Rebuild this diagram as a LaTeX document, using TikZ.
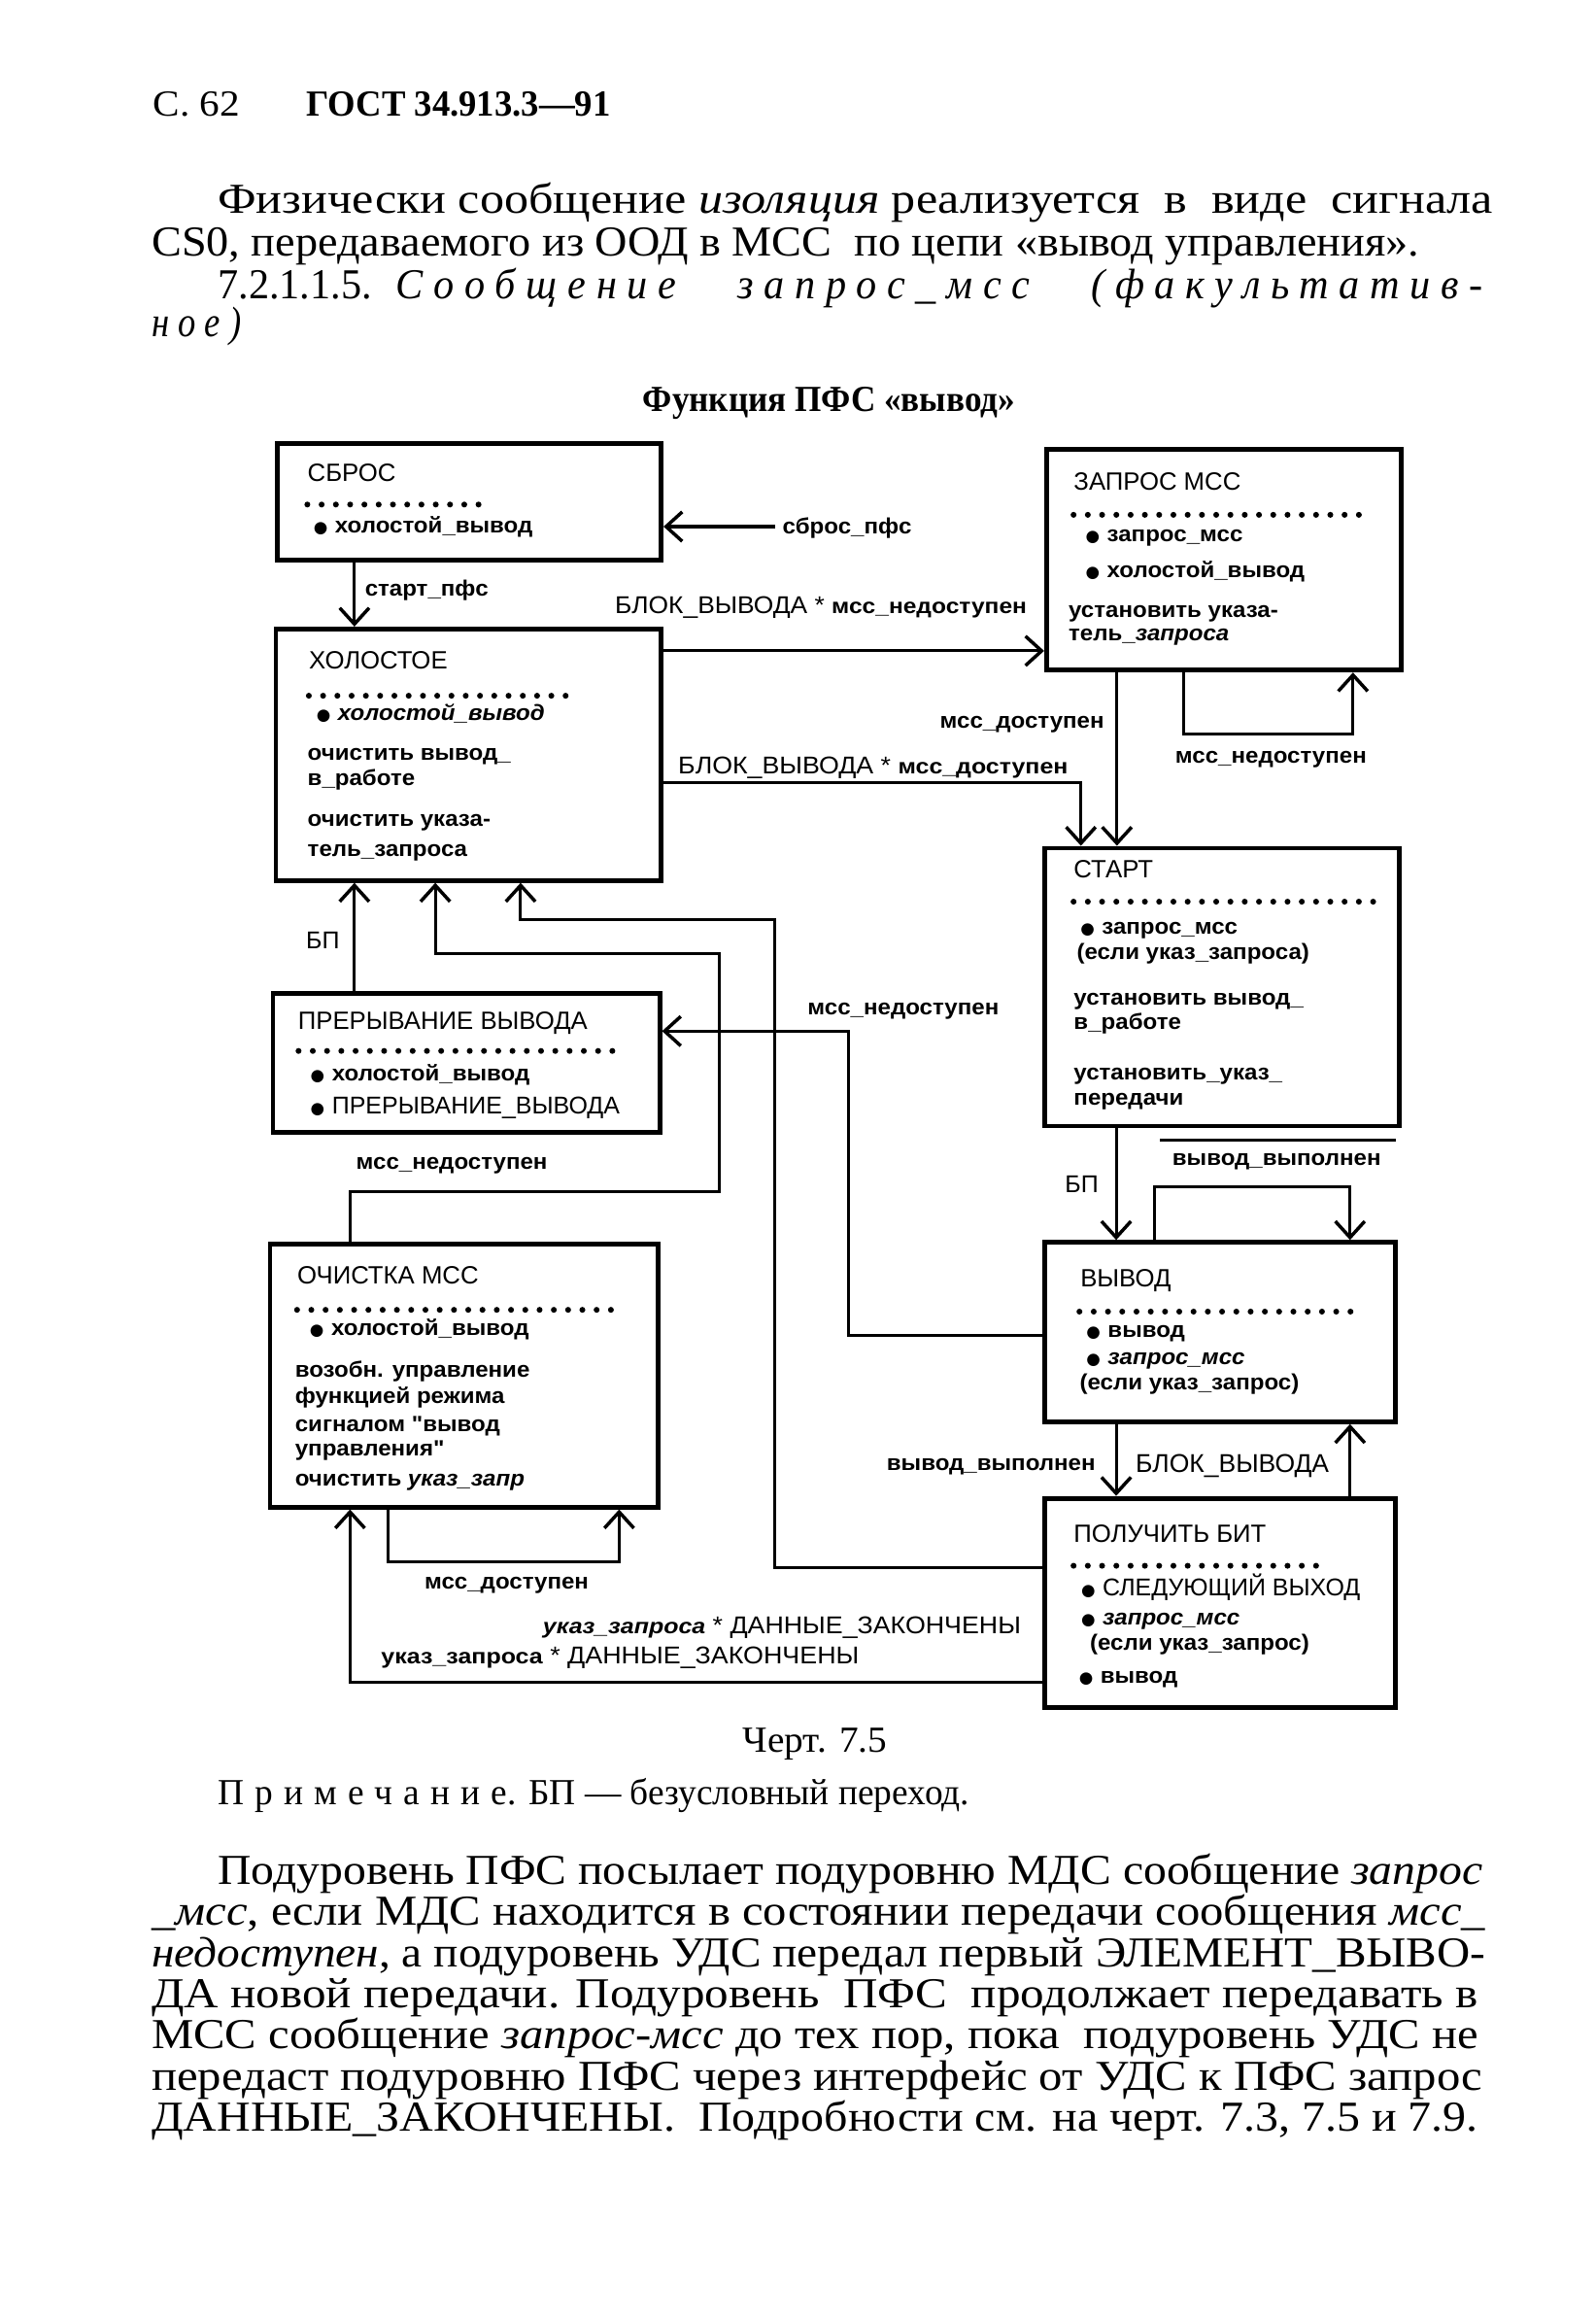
\documentclass[tikz,border=0pt]{standalone}
\usepackage{fontspec}
\setmainfont{Liberation Serif}
\setsansfont{Liberation Sans}
\newfontfamily\itemfont[FakeStretch=1.06]{Liberation Sans}
\newfontfamily\djv{DejaVu Sans}
\usetikzlibrary{arrows.meta}
\newcommand\fw[2]{\resizebox{#1}{\height}{#2}}
\newcommand\bul{{\djv\fontsize{11}{11}\selectfont ●}\hspace{5pt}}
\begin{document}
\begin{tikzpicture}[x=1pt,y=-1pt,
  box/.style={draw, line width=3.2pt, inner sep=0pt, anchor=north west},
  con/.style={line width=2pt},
  arr/.style={con, -{Straight Barb[length=11pt,width=20pt,line width=2.3pt]}},
  dotrow/.style={line width=4pt, line cap=round, dash pattern=on 0pt off 9.7pt},
  body/.style={font=\fontsize{29}{29}\selectfont, anchor=base west, inner sep=0pt},
  hdr/.style={font=\fontsize{25}{25}\selectfont, anchor=base west, inner sep=0pt},
  ttl/.style={font=\sffamily\fontsize{17}{17}\selectfont, anchor=base west, inner sep=0pt},
  itm/.style={font=\itemfont\bfseries\fontsize{15}{15}\selectfont, anchor=base west, inner sep=0pt},
  capstext/.style={font=\sffamily\fontsize{16.5}{17}\selectfont, anchor=base west, inner sep=0pt},
]
\fill[white] (0,0) rectangle (1085,1580);
\useasboundingbox (0,0) rectangle (1085,1580);

% ---------- page text (top) ----------
\node[hdr] (h1) at (104,79) {\fw{59pt}{С.\ 62}};
\node[hdr] (h2) at (208,79) {\fw{207pt}{\bfseries ГОСТ 34.913.3—91}};
\node[body] (p1) at (148,145) {\fw{867pt}{Физически сообщение \textit{изоляция} реализуется \ в \ виде \ сигнала}};
\node[body] (p2) at (103,174) {\fw{862pt}{CS0, передаваемого из ООД в МСС \ по цепи «вывод управления».}};
\node[body] (p3) at (148,203) {\fw{867pt}{7.2.1.1.5. \ \textit{\addfontfeature{LetterSpace=25}Сообщение \ \ запрос\_мсс \ \ (факультатив-}}};
\node[body] (p4) at (103,229) {\fw{67pt}{\textit{\addfontfeature{LetterSpace=25}ное)}}};
\node[hdr] (title) at (437,280) {\fw{253pt}{\bfseries Функция ПФС «вывод»}};

% ---------- boxes ----------
\node[box, minimum width=261pt, minimum height=79pt]  (sbros)  at (187,300)  {};
\node[box, minimum width=241pt, minimum height=150pt] (zapros) at (710,304)  {};
\node[box, minimum width=262pt, minimum height=171pt] (holost) at (186,426)  {};
\node[box, minimum width=241pt, minimum height=189pt] (start)  at (709,575)  {};
\node[box, minimum width=263pt, minimum height=94pt]  (prer)   at (184,674)  {};
\node[box, minimum width=264pt, minimum height=179pt] (ochist) at (182,844)  {};
\node[box, minimum width=238pt, minimum height=122pt] (vyvod)  at (709,843)  {};
\node[box, minimum width=238pt, minimum height=142pt] (poluch) at (709,1017) {};

% СБРОС
\node[ttl] (sbT) at (209,327) {СБРОС};
\draw[dotrow] (209,343) -- (327,343);
\node[itm] (sb1) at (213,362) {\bul холостой\_вывод};
% ХОЛОСТОЕ
\node[ttl] (hoT) at (210,454.5) {ХОЛОСТОЕ};
\draw[dotrow] (210,473) -- (385,473);
\node[itm] (ho1) at (215,490) {\bul\textit{холостой\_вывод}};
\node[itm] (ho2) at (209,517) {очистить вывод\_};
\node[itm] (ho3) at (209,534) {в\_работе};
\node[itm] (ho4) at (209,562) {очистить указа-};
\node[itm] (ho5) at (209,582) {тель\_запроса};
% ЗАПРОС МСС
\node[ttl] (zaT) at (730,333.5) {ЗАПРОС МСС};
\draw[dotrow] (730,350) -- (932,350);
\node[itm] (za1) at (738,368.5) {\bul запрос\_мсс};
\node[itm] (za2) at (738,392.5) {\bul холостой\_вывод};
\node[itm] (za3) at (726.5,420) {установить указа-};
\node[itm] (za4) at (726.5,435.5) {тель\_\textit{запроса}};
% СТАРТ
\node[ttl] (stT) at (730,596.5) {СТАРТ};
\draw[dotrow] (730,613) -- (940,613);
\node[itm] (st1) at (734.5,635) {\bul запрос\_мсс};
\node[itm] (st2) at (732,652.5) {(если указ\_запроса)};
\node[itm] (st3) at (730,683) {установить вывод\_};
\node[itm] (st4) at (730,700) {в\_работе};
\node[itm] (st5) at (730,734) {установить\_указ\_};
\node[itm] (st6) at (730,751.5) {передачи};
% ПРЕРЫВАНИЕ ВЫВОДА
\node[ttl] (prT) at (202.5,700) {ПРЕРЫВАНИЕ ВЫВОДА};
\draw[dotrow] (203,714.5) -- (420,714.5);
\node[itm] (pr1) at (211,735) {\bul холостой\_вывод};
\node[capstext] (pr2) at (211,757.5) {\bul ПРЕРЫВАНИЕ\_ВЫВОДА};
% ОЧИСТКА МСС
\node[ttl] (ocT) at (202,873) {ОЧИСТКА МСС};
\draw[dotrow] (202,890.5) -- (425,890.5);
\node[itm] (oc1) at (210.5,908) {\bul холостой\_вывод};
\node[itm] (oc2) at (200.5,936.5) {возобн. управление};
\node[itm] (oc3) at (200.5,954) {функцией режима};
\node[itm] (oc4) at (200.5,973) {сигналом "вывод};
\node[itm] (oc5) at (200.5,990) {управления"};
\node[itm] (oc6) at (200.5,1010) {очистить \textit{указ\_запр}};
% ВЫВОД
\node[ttl] (vyT) at (734.5,875) {ВЫВОД};
\draw[dotrow] (734,891.7) -- (926,891.7);
\node[itm] (vy1) at (738.5,909.5) {\bul вывод};
\node[itm] (vy2) at (738.5,927.5) {\bul\textit{запрос\_мсс}};
\node[itm] (vy3) at (734,945) {(если указ\_запрос)};
% ПОЛУЧИТЬ БИТ
\node[ttl] (poT) at (730,1048.5) {ПОЛУЧИТЬ БИТ};
\draw[dotrow] (730,1064.5) -- (901,1064.5);
\node[capstext] (po1) at (735,1085) {\bul СЛЕДУЮЩИЙ ВЫХОД};
\node[itm] (po2) at (735,1105) {\bul\textit{запрос\_мсс}};
\node[itm] (po3) at (741,1122) {(если указ\_запрос)};
\node[itm] (po4) at (733.5,1144.5) {\bul вывод};

% ---------- connectors ----------
\coordinate (c1) at (527,358);
\draw[arr] (c1) -- (c1 -| sbros.east);
\draw[arr] (241,0 |- sbros.south) -- (241,0 |- holost.north);
\draw[arr] (holost.east |- 0,442.5) -- (zapros.west |- 0,442.5);
\draw[arr] (holost.east |- 0,532) -| (735,0 |- start.north);
\draw[arr] (759.5,0 |- zapros.south) -- (759.5,0 |- start.north);
\draw[arr] (805,0 |- zapros.south) |- (920,499) -- (920,0 |- zapros.south);
\draw[arr] (241,0 |- prer.north) -- (241,0 |- holost.south);
\draw[arr] (238,0 |- ochist.north) |- (489,810) |- (296,648.5) -- (296,0 |- holost.south);
\draw[arr] (vyvod.west |- 0,908) -| (577,701) -- (prer.east |- 0,701);
\draw[arr] (759,0 |- start.south) -- (759,0 |- vyvod.north);
\draw[arr] (785,0 |- vyvod.north) |- (918,807) -- (918,0 |- vyvod.north);
\draw[con] (789,775) -- (949,775);
\draw[arr] (759,0 |- vyvod.south) -- (759,0 |- poluch.north);
\draw[arr] (918,0 |- poluch.north) -- (918,0 |- vyvod.south);
\draw[arr] (264,0 |- ochist.south) |- (421,1062) -- (421,0 |- ochist.south);
\draw[arr] (poluch.west |- 0,1066) -| (527,625.5) -| (354,0 |- holost.south);
\draw[arr] (poluch.west |- 0,1144) -| (238,0 |- ochist.south);

% ---------- connector labels ----------
\node[itm] (l1) at (532,363) {сброс\_пфс};
\node[itm] (l2) at (248,405) {старт\_пфс};
\node[capstext] (l3) at (418,417) {\fw{280pt}{БЛОК\_ВЫВОДА * {\itemfont\bfseries\fontsize{14.5}{15}\selectfont мсс\_недоступен}}};
\node[capstext] (l4) at (461,526) {\fw{265pt}{БЛОК\_ВЫВОДА * {\itemfont\bfseries\fontsize{14.5}{15}\selectfont мсс\_доступен}}};
\node[itm] (l5) at (639,495) {мсс\_доступен};
\node[itm] (l6) at (799,519) {мсс\_недоступен};
\node[capstext] (l7) at (208,645) {БП};
\node[itm] (l8) at (242,795) {мсс\_недоступен};
\node[itm] (l9) at (549,690) {мсс\_недоступен};
\node[capstext] (l10) at (724,811) {БП};
\node[itm] (l11) at (797,792) {вывод\_выполнен};
\node[itm, anchor=base east] (l12) at (745,1000) {вывод\_выполнен};
\node[capstext, font=\sffamily\fontsize{17.5}{18}\selectfont] (l13) at (772,1001) {БЛОК\_ВЫВОДА};
\node[itm] (l14) at (288.5,1080.5) {мсс\_доступен};
\node[capstext] (l15) at (369,1111) {\fw{325pt}{{\itemfont\bfseries\itshape\fontsize{14.5}{15}\selectfont указ\_запроса} * ДАННЫЕ\_ЗАКОНЧЕНЫ}};
\node[capstext] (l16) at (259,1131) {\fw{325pt}{{\itemfont\bfseries\fontsize{14.5}{15}\selectfont указ\_запроса} * ДАННЫЕ\_ЗАКОНЧЕНЫ}};

% ---------- page text (bottom) ----------
\node[hdr] (ch) at (505,1191) {\fw{98pt}{Черт. 7.5}};
\node[hdr] (note) at (148,1227) {\fw{511pt}{{\addfontfeature{LetterSpace=30}Примечание}. БП — безусловный переход.}};
\node[body] (q1) at (148,1281) {\fw{860pt}{Подуровень ПФС посылает подуровню МДС сообщение \textit{запрос}}};
\node[body] (q2) at (103,1309) {\fw{907pt}{\textit{\_мсс}, если МДС находится в состоянии передачи сообщения \textit{мсс\_}}};
\node[body] (q3) at (103,1337) {\fw{907pt}{\textit{недоступен}, а подуровень УДС передал первый ЭЛЕМЕНТ\_ВЫВО-}};
\node[body] (q4) at (103,1365) {\fw{902pt}{ДА новой передачи. Подуровень \ ПФС \ продолжает передавать в}};
\node[body] (q5) at (103,1393) {\fw{902pt}{МСС сообщение \textit{запрос-мсс} до тех пор, пока \ подуровень УДС не}};
\node[body] (q6) at (103,1421) {\fw{905pt}{передаст подуровню ПФС через интерфейс от УДС к ПФС запрос}};
\node[body] (q7) at (103,1449) {\fw{902pt}{ДАННЫЕ\_ЗАКОНЧЕНЫ. \ Подробности см. на черт. 7.3, 7.5 и 7.9.}};
\end{tikzpicture}
\end{document}
